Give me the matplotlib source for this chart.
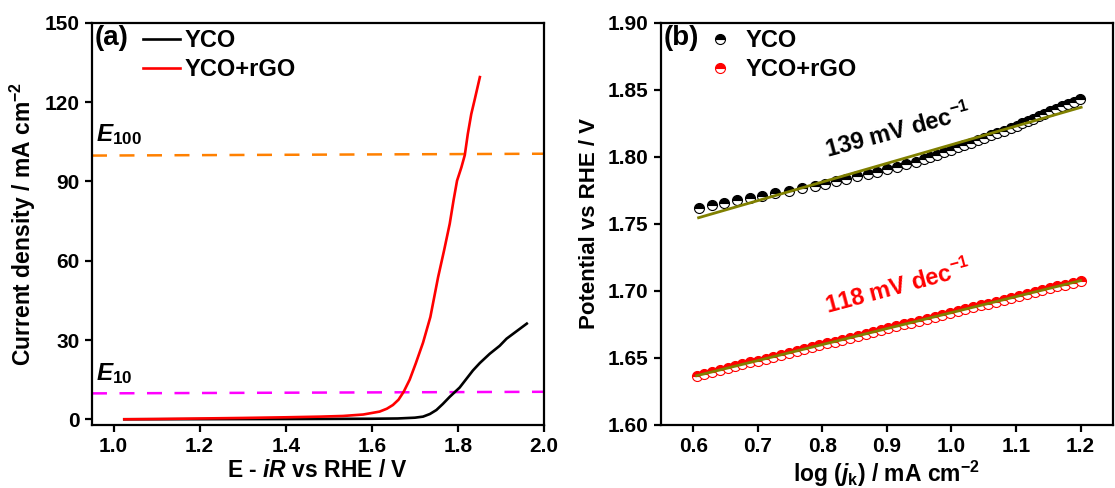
import matplotlib
matplotlib.use('Agg')
import matplotlib.pyplot as plt

plt.rcParams['font.family'] = ['Liberation Sans', 'DejaVu Sans']
plt.rcParams['font.weight'] = 'bold'
plt.rcParams['axes.labelweight'] = 'bold'
plt.rcParams['mathtext.fontset'] = 'custom'
plt.rcParams['mathtext.rm'] = 'Liberation Sans:bold'
plt.rcParams['mathtext.bf'] = 'Liberation Sans:bold'
plt.rcParams['mathtext.it'] = 'Liberation Sans:italic:bold'

# (a) LSV curves
rgo_e = [1.025, 1.10, 1.20, 1.30, 1.40, 1.48, 1.533, 1.58, 1.618, 1.635, 1.649, 1.662,
         1.674, 1.688, 1.702, 1.719, 1.736, 1.754, 1.768, 1.781, 1.790, 1.798, 1.808,
         1.816, 1.823, 1.831, 1.839, 1.851]
rgo_j = [0, 0.1, 0.3, 0.5, 0.75, 1.0, 1.25, 1.8, 2.9, 4.0, 5.4, 7.4,
         10.4, 15, 21.1, 29, 38.7, 53.8, 64, 74, 83, 90.3, 95.3,
         100, 108, 115.5, 121, 129.5]
yco_e = [1.025, 1.20, 1.40, 1.60, 1.66, 1.70, 1.719, 1.735, 1.75, 1.765, 1.781, 1.804,
         1.835, 1.851, 1.874, 1.897, 1.913, 1.960]
yco_j = [0, 0.05, 0.1, 0.2, 0.3, 0.6, 1.0, 2.0, 3.5, 5.8, 8.5, 12,
         18.5, 21.3, 24.8, 27.8, 30.5, 36.2]
e100_x = [0.95, 2.0]
e100_y = [99.8, 100.5]
e10_x = [0.95, 2.0]
e10_y = [9.8, 10.4]

# (b) Tafel plots
tafel_yco_x = [0.609, 0.628, 0.648, 0.667, 0.687, 0.707, 0.727, 0.748, 0.768, 0.788,
               0.804, 0.821, 0.837, 0.853, 0.870, 0.885, 0.900, 0.915, 0.930, 0.945,
               0.957, 0.967, 0.978, 0.988, 0.999, 1.010, 1.020, 1.031, 1.041, 1.051,
               1.061, 1.071, 1.081, 1.092, 1.101, 1.109, 1.118, 1.126, 1.135, 1.143,
               1.152, 1.162, 1.171, 1.180, 1.190, 1.199]
tafel_yco_y = [1.7620, 1.7638, 1.7656, 1.7674, 1.7692, 1.7710, 1.7728, 1.7746, 1.7764, 1.7782,
               1.7800, 1.7818, 1.7836, 1.7854, 1.7872, 1.7890, 1.7908, 1.7926, 1.7944, 1.7962,
               1.7980, 1.7998, 1.8016, 1.8034, 1.8052, 1.8070, 1.8088, 1.8106, 1.8124, 1.8142,
               1.8160, 1.8178, 1.8196, 1.8214, 1.8232, 1.8250, 1.8268, 1.8286, 1.8304, 1.8322,
               1.8340, 1.8358, 1.8376, 1.8394, 1.8412, 1.8430]
tafel_rgo_x = [0.605, 0.617, 0.629, 0.641, 0.653, 0.664, 0.676, 0.688, 0.700, 0.712,
               0.724, 0.736, 0.748, 0.760, 0.772, 0.783, 0.795, 0.807, 0.819, 0.831,
               0.843, 0.855, 0.867, 0.879, 0.891, 0.902, 0.914, 0.926, 0.938, 0.950,
               0.962, 0.974, 0.986, 0.998, 1.010, 1.021, 1.033, 1.045, 1.057, 1.069,
               1.081, 1.093, 1.105, 1.117, 1.129, 1.140, 1.152, 1.164, 1.176, 1.188, 1.200]
tafel_rgo_y = [1.6365, 1.6379, 1.6394, 1.6408, 1.6422, 1.6435, 1.6450, 1.6464, 1.6478, 1.6493,
               1.6507, 1.6521, 1.6536, 1.6550, 1.6564, 1.6577, 1.6592, 1.6606, 1.6620, 1.6635,
               1.6649, 1.6663, 1.6678, 1.6692, 1.6706, 1.6719, 1.6734, 1.6748, 1.6762, 1.6777,
               1.6791, 1.6805, 1.6820, 1.6834, 1.6848, 1.6861, 1.6876, 1.6890, 1.6904, 1.6919,
               1.6933, 1.6947, 1.6962, 1.6976, 1.6990, 1.7003, 1.7018, 1.7032, 1.7046, 1.7061, 1.7075]
fit_yco_x = [0.608, 1.201]
fit_yco_y = [1.7545, 1.837]
fit_rgo_x = [0.605, 1.200]
fit_rgo_y = [1.6365, 1.7075]

fig = plt.figure(figsize=(11.15, 4.88), dpi=100)
ax1 = fig.add_axes([0.0825, 0.130, 0.4054, 0.823])
ax2 = fig.add_axes([0.593, 0.130, 0.405, 0.823])

for ax in (ax1, ax2):
    for s in ax.spines.values():
        s.set_linewidth(1.6)
    ax.tick_params(direction='out', length=5, width=1.6, labelsize=15, pad=4)

# panel (a)
ax1.plot(e100_x, e100_y, color='#FF8000', lw=1.8, dashes=(6, 5))
ax1.plot(e10_x, e10_y, color='#FF00FF', lw=1.8, dashes=(6, 5))
ax1.plot(yco_e, yco_j, color='black', lw=1.9, label='YCO')
ax1.plot(rgo_e, rgo_j, color='#FF0000', lw=1.9, label='YCO+rGO')
ax1.set_xlim(0.95, 2.0)
ax1.set_ylim(-2, 150)
ax1.set_xticks([1.0, 1.2, 1.4, 1.6, 1.8, 2.0])
ax1.set_xticklabels(['1.0', '1.2', '1.4', '1.6', '1.8', '2.0'])
ax1.set_yticks([0, 30, 60, 90, 120, 150])
ax1.set_xlabel(r'E - $\mathit{iR}$ vs RHE / V', fontsize=16.5, labelpad=2)
ax1.set_ylabel(r'Current density / mA cm$^{-2}$', fontsize=16.5, labelpad=5)
ax1.text(0.96, 105.4, r'$\mathit{E}_{\mathit{100}}$', fontsize=17.5, ha='left', va='baseline')
ax1.text(0.96, 14.9, r'$\mathit{E}_{\mathit{10}}$', fontsize=17.5, ha='left', va='baseline')
ax1.text(0.006, 0.995, '(a)', transform=ax1.transAxes, fontsize=20, ha='left', va='top')
ax1.legend(loc='upper left', bbox_to_anchor=(0.113, 0.985), frameon=False, fontsize=17,
           handlelength=1.57, handletextpad=0.17, labelspacing=0.25, borderpad=0,
           borderaxespad=0)

# panel (b)
ax2.plot(tafel_yco_x, tafel_yco_y, 'o', ms=7.2, color='black', mec='black', mew=0.8,
         fillstyle='top', markerfacecoloralt='white', label='YCO', zorder=2)
ax2.plot(tafel_rgo_x, tafel_rgo_y, 'o', ms=7.2, color='#FF0000', mec='#FF0000', mew=0.8,
         fillstyle='top', markerfacecoloralt='white', label='YCO+rGO', zorder=2)
ax2.plot(fit_yco_x, fit_yco_y, color='#808000', lw=2.0, zorder=3)
ax2.plot(fit_rgo_x, fit_rgo_y, color='#808000', lw=2.0, zorder=3)
ax2.set_xlim(0.55, 1.25)
ax2.set_ylim(1.60, 1.90)
ax2.set_xticks([0.6, 0.7, 0.8, 0.9, 1.0, 1.1, 1.2])
ax2.set_xticklabels(['0.6', '0.7', '0.8', '0.9', '1.0', '1.1', '1.2'])
ax2.set_yticks([1.60, 1.65, 1.70, 1.75, 1.80, 1.85, 1.90])
ax2.set_yticklabels(['1.60', '1.65', '1.70', '1.75', '1.80', '1.85', '1.90'])
ax2.set_xlabel(r'log ($\mathit{j}_{\mathrm{k}}$) / mA cm$^{-2}$', fontsize=16.5, labelpad=2)
ax2.set_ylabel('Potential vs RHE / V', fontsize=16, labelpad=6)
ax2.text(0.918, 1.8195, r'139 mV dec$^{-1}$', fontsize=17, rotation=15,
         ha='center', va='center', color='black')
ax2.text(0.918, 1.7025, r'118 mV dec$^{-1}$', fontsize=17, rotation=15,
         ha='center', va='center', color='#FF0000')
ax2.text(0.006, 0.995, '(b)', transform=ax2.transAxes, fontsize=20, ha='left', va='top')
ax2.legend(loc='upper left', bbox_to_anchor=(0.104, 0.985), frameon=False, fontsize=17,
           handlelength=1.0, handletextpad=0.6, labelspacing=0.25, borderpad=0,
           borderaxespad=0)

fig.savefig('out.png', dpi=100)
